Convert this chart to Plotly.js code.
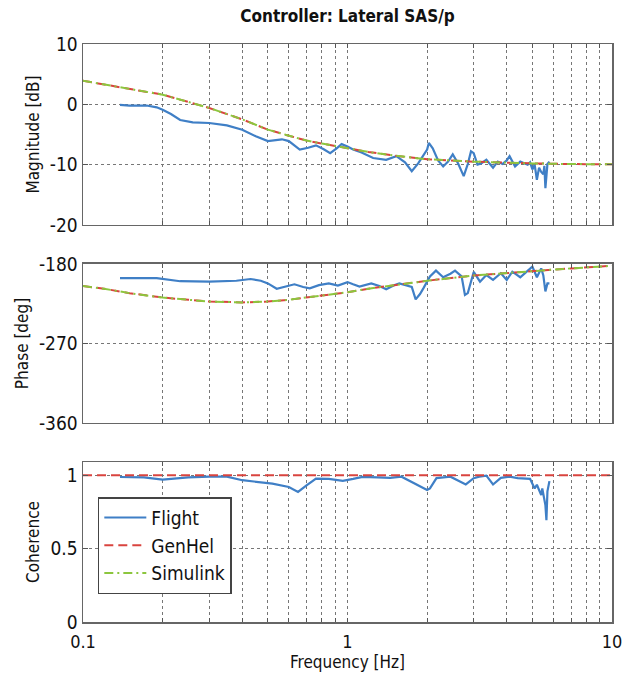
<!DOCTYPE html>
<html>
<head>
<meta charset="utf-8">
<script src="https://cdn.plot.ly/plotly-3.0.1.min.js"></script>
<style>html,body{margin:0;padding:0;background:#fff;}#chart{width:622px;height:681px;}</style>
</head>
<body>
<div id="chart"></div>
<script>
// ---- Data ----
var modelFreq = [0.1, 0.12, 0.15, 0.2, 0.25, 0.3, 0.4, 0.5, 0.6, 0.7, 0.8, 0.9, 1.0, 1.2, 1.5, 2, 3, 4, 5, 7, 10];
var genhelMag = [3.9, 3.3, 2.6, 1.6, 0.4, -0.6, -2.5, -4.2, -5.2, -6.0, -6.5, -6.9, -7.3, -7.9, -8.5, -9.1, -9.5, -9.7, -9.8, -9.9, -9.95];
var simulinkMag = [3.9, 3.3, 2.6, 1.6, 0.4, -0.6, -2.5, -4.2, -5.2, -6.0, -6.5, -6.9, -7.3, -7.9, -8.5, -9.1, -9.5, -9.7, -9.8, -9.9, -9.95];
var genhelPhase = [-205, -208, -213, -218, -220.5, -222.5, -223.5, -222.5, -220.5, -218, -216, -214, -212, -208, -204, -199, -193, -190, -188, -185, -182];
var simulinkPhase = [-205, -208, -213, -218, -220.5, -222.5, -223.5, -222.5, -220.5, -218, -216, -214, -212, -208, -204, -199, -193, -190, -188, -185, -182];
var genhelCohFreq = [0.1, 10];
var genhelCoh = [1, 1];

var flightMagFreq = [0.138, 0.15, 0.174, 0.19, 0.2, 0.215, 0.233, 0.26, 0.3, 0.35, 0.4, 0.45, 0.5, 0.53, 0.565, 0.6, 0.66, 0.71, 0.76, 0.81, 0.86, 0.91, 0.95, 1.0, 1.05, 1.13, 1.25, 1.4, 1.53, 1.65, 1.75, 1.85, 1.93, 2.0, 2.03, 2.1, 2.2, 2.3, 2.4, 2.5, 2.62, 2.75, 2.85, 2.93, 3.0, 3.1, 3.2, 3.35, 3.55, 3.7, 3.85, 4.0, 4.1, 4.3, 4.5, 4.8, 4.9, 5.0, 5.1, 5.2, 5.3, 5.4, 5.5, 5.55, 5.6, 5.65, 5.7, 5.8];
var flightMag = [-0.1, -0.2, -0.2, -0.5, -0.9, -1.6, -2.6, -3.0, -3.1, -3.5, -4.2, -5.3, -6.1, -6.0, -5.8, -6.1, -7.5, -7.2, -6.8, -7.4, -8.1, -7.3, -6.6, -7.0, -7.5, -8.0, -8.9, -9.2, -8.6, -9.6, -11.1, -9.8, -8.6, -7.5, -6.4, -7.3, -9.3, -10.3, -9.5, -8.3, -9.8, -11.9, -9.9, -7.8, -8.1, -10.0, -9.8, -9.2, -10.5, -9.5, -9.9, -9.3, -8.6, -10.3, -9.5, -10.0, -9.6, -10.8, -10.0, -12.5, -10.5, -11.2, -11.6, -10.2, -13.9, -12.0, -9.9, -9.5];

var flightPhaseFreq = [0.138, 0.19, 0.233, 0.3, 0.38, 0.43, 0.47, 0.5, 0.54, 0.58, 0.63, 0.68, 0.72, 0.78, 0.85, 0.92, 1.0, 1.05, 1.11, 1.23, 1.32, 1.4, 1.5, 1.57, 1.68, 1.75, 1.81, 1.88, 1.94, 2.05, 2.16, 2.3, 2.45, 2.55, 2.7, 2.78, 2.85, 2.93, 3.0, 3.17, 3.35, 3.55, 3.8, 4.0, 4.2, 4.5, 4.8, 5.0, 5.2, 5.4, 5.5, 5.6, 5.7, 5.8];
var flightPhase = [-196, -196, -199.5, -200, -199, -197, -199, -202, -208, -206, -203, -206, -207.5, -204, -202, -204.5, -200.5, -203, -205.5, -202, -205, -208.5, -204, -202, -204, -206, -220, -214, -207, -194, -187.5, -195, -191, -187.5, -194, -215, -213, -200, -189, -200, -192.5, -198, -190.5, -198, -188.7, -195, -187, -183, -195, -185, -193, -211, -202, -202];

var flightCohFreq = [0.138, 0.17, 0.2, 0.25, 0.3, 0.35, 0.4, 0.45, 0.52, 0.6, 0.65, 0.7, 0.76, 0.85, 0.96, 1.05, 1.14, 1.3, 1.45, 1.6, 1.75, 1.85, 2.0, 2.05, 2.17, 2.45, 2.6, 2.8, 3.0, 3.15, 3.35, 3.55, 3.8, 4.1, 4.4, 4.9, 5.1, 5.2, 5.4, 5.45, 5.6, 5.65, 5.7, 5.8];
var flightCoh = [0.988, 0.985, 0.97, 0.985, 0.99, 0.99, 0.966, 0.955, 0.943, 0.92, 0.886, 0.93, 0.977, 0.975, 0.962, 0.975, 0.989, 0.985, 0.982, 0.99, 0.955, 0.932, 0.9, 0.91, 0.98, 0.99, 0.966, 0.937, 0.98, 0.99, 0.997, 0.937, 0.982, 0.99, 0.98, 0.975, 0.91, 0.935, 0.864, 0.91, 0.796, 0.694, 0.89, 0.96];

var xTickVals = [0.1,0.2,0.3,0.4,0.5,0.6,0.7,0.8,0.9,1,2,3,4,5,6,7,8,9,10];
var xTickText = ['0.1','','','','','','','','','1','','','','','','','','','10'];
var seriesNames = ['Flight', 'GenHel', 'Simulink'];
var magTicks = [-20, -10, 0, 10];
var magTickText = ['-20', '-10', '0', '10'];
var phaseTicks = [-360, -270, -180];
var phaseTickText = ['-360', '-270', '-180'];
var cohTicks = [0, 0.5, 1];
var cohTickText = ['0', '0.5', '1'];

// ---- Styles ----
var cBlue = '#3f7fc6', cRed = '#d9443f', cGreen = '#8cc63e';
var fontFam = '"DejaVu Sans Condensed", "Liberation Sans Narrow", Arial, sans-serif';

function line(color, dash, w) { return {color: color, width: w || 2, dash: dash}; }
var dashRed = '9px,5px';
var dashGreen = '9px,4px,2px,4px';

var traces = [
  {x: flightMagFreq, y: flightMag, xaxis: 'x', yaxis: 'y', mode: 'lines', name: seriesNames[0], line: line(cBlue, 'solid', 2.2), legendgroup: 'a', showlegend: true},
  {x: modelFreq, y: genhelMag, xaxis: 'x', yaxis: 'y', mode: 'lines', name: seriesNames[1], line: line(cRed, dashRed), legendgroup: 'b', showlegend: true},
  {x: modelFreq, y: simulinkMag, xaxis: 'x', yaxis: 'y', mode: 'lines', name: seriesNames[2], line: line(cGreen, dashGreen), legendgroup: 'c', showlegend: true},
  {x: flightPhaseFreq, y: flightPhase, xaxis: 'x2', yaxis: 'y2', mode: 'lines', name: seriesNames[0], line: line(cBlue, 'solid', 2.2), legendgroup: 'a', showlegend: false},
  {x: modelFreq, y: genhelPhase, xaxis: 'x2', yaxis: 'y2', mode: 'lines', name: seriesNames[1], line: line(cRed, dashRed), legendgroup: 'b', showlegend: false},
  {x: modelFreq, y: simulinkPhase, xaxis: 'x2', yaxis: 'y2', mode: 'lines', name: seriesNames[2], line: line(cGreen, dashGreen), legendgroup: 'c', showlegend: false},
  {x: flightCohFreq, y: flightCoh, xaxis: 'x3', yaxis: 'y3', mode: 'lines', name: seriesNames[0], line: line(cBlue, 'solid', 2.2), legendgroup: 'a', showlegend: false},
  {x: genhelCohFreq, y: genhelCoh, xaxis: 'x3', yaxis: 'y3', mode: 'lines', name: seriesNames[1], line: line(cRed, dashRed), legendgroup: 'b', showlegend: false}
];

function xAxis(anchor, labels) {
  return {
    type: 'log', range: [-1, 1], anchor: anchor,
    tickmode: 'array', tickvals: xTickVals, ticktext: labels ? xTickText : xTickVals.map(function(){return '';}),
    showgrid: true, gridcolor: '#777', griddash: 'dot', gridwidth: 1,
    showline: true, linecolor: '#666', linewidth: 1.5, mirror: 'allticks',
    ticks: 'inside', ticklen: 4, tickcolor: '#555', ticklabelstandoff: 3, ticklabeloverflow: 'allow',
    zeroline: false, tickfont: {family: fontFam, size: 18, color: '#111'}
  };
}
function yAxis(anchor, dom, rng, tv, tt, title) {
  return {
    domain: dom, range: rng, anchor: anchor,
    tickmode: 'array', tickvals: tv, ticktext: tt,
    showgrid: true, gridcolor: '#777', griddash: 'dot', gridwidth: 1,
    showline: true, linecolor: '#666', linewidth: 1.5, mirror: 'allticks',
    ticks: 'inside', ticklen: 5, tickcolor: '#555',
    zeroline: false, tickfont: {family: fontFam, size: 19, color: '#111'},
    title: {text: title, font: {family: fontFam, size: 17, color: '#111'}, standoff: 6}
  };
}

var xa3 = xAxis('y3', true);
xa3.title = {text: 'Frequency [Hz]', font: {family: fontFam, size: 17, color: '#111'}, standoff: 4};

var layout = {
  width: 622, height: 681,
  margin: {l: 83, r: 10, t: 44, b: 59},
  paper_bgcolor: '#fff', plot_bgcolor: '#fff',
  title: {text: 'Controller: Lateral SAS/p', font: {family: fontFam, size: 17, color: '#111', weight: 'bold'}, x: 0.5, xref: 'paper', y: 0.976, yref: 'container', yanchor: 'middle'},
  xaxis: xAxis('y', false),
  xaxis2: xAxis('y2', false),
  xaxis3: xa3,
  yaxis: yAxis('x', [0.6869, 1], [-20, 10], magTicks, magTickText, 'Magnitude [dB]'),
  yaxis2: yAxis('x2', [0.3443, 0.6194], [-360, -180], phaseTicks, phaseTickText, 'Phase [deg]'),
  yaxis3: yAxis('x3', [0, 0.2768], [0, 1.09], cohTicks, cohTickText, 'Coherence'),
  showlegend: true,
  legend: {x: 0.028, y: 0.216, xanchor: 'left', yanchor: 'top', xref: 'paper', yref: 'paper',
    bgcolor: '#fff', bordercolor: '#444', borderwidth: 1.5, itemwidth: 42,
    font: {family: fontFam, size: 19, color: '#111'}, tracegroupgap: 9, traceorder: 'normal'}
};

Plotly.newPlot('chart', traces, layout, {displayModeBar: false, staticPlot: true});
</script>
</body>
</html>
